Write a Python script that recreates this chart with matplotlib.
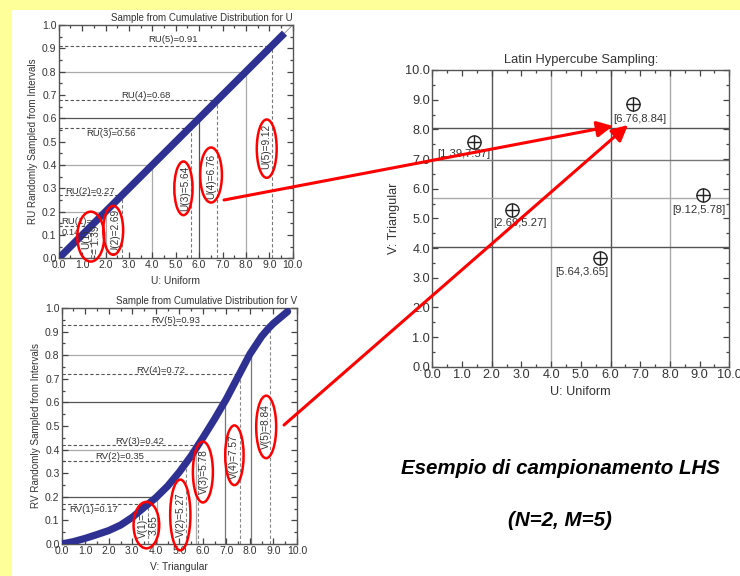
import matplotlib
matplotlib.use('Agg')
import matplotlib.pyplot as plt
from matplotlib.patches import Ellipse, Rectangle, FancyArrowPatch
from matplotlib.ticker import MultipleLocator, FormatStrFormatter

plt.rcParams['font.family'] = ['Liberation Sans', 'DejaVu Sans']

# cumulative curves
u_curve = [0.0, 9.65]
fu_curve = [0.0, 0.965]
v_curve = [0.0, 0.5, 1.0, 1.5, 2.0, 2.5, 3.0, 3.5, 4.0, 4.5, 5.0, 5.5, 6.0, 6.5,
           7.0, 7.5, 8.0, 8.5, 8.8, 9.0, 9.3, 9.6]
fv_curve = [0.0, 0.01, 0.024, 0.04, 0.057, 0.08, 0.113, 0.155, 0.196, 0.245, 0.305,
            0.373, 0.45, 0.53, 0.615, 0.71, 0.805, 0.88, 0.915, 0.935, 0.96, 0.985]

# interval boundaries
p_bounds = [0.2, 0.4, 0.6, 0.8]
u_bounds = [2.0, 4.0, 6.0, 8.0]
v_bounds = [4.05, 5.69, 6.96, 8.03]

# sampled values
ru = [0.14, 0.27, 0.56, 0.68, 0.91]
u_samples = [1.39, 2.69, 5.64, 6.76, 9.12]
rv = [0.17, 0.35, 0.42, 0.72, 0.93]
v_samples = [3.65, 5.27, 5.78, 7.57, 8.84]

# LHS pairs
lhs_u = [1.39, 2.69, 5.64, 6.76, 9.12]
lhs_v = [7.57, 5.27, 3.65, 8.84, 5.78]

NAVY = '#2e3192'
TXT = '#333333'
W, H = 740, 576

fig = plt.figure(figsize=(7.4, 5.76), dpi=100, facecolor='#ffff99')
fig.patches.append(Rectangle((12 / W, 0), 1, 1 - 10 / H, transform=fig.transFigure,
                             facecolor='white', edgecolor='none', zorder=-10))


def px_axes(l, t, r, b):
    return fig.add_axes([l / W, 1 - b / H, (r - l) / W, (b - t) / H])


def style(ax, ymax, ymaj, ymin, fs):
    ax.set_xlim(0, 10)
    ax.set_ylim(0, ymax)
    ax.xaxis.set_major_locator(MultipleLocator(1.0))
    ax.xaxis.set_minor_locator(MultipleLocator(0.5))
    ax.yaxis.set_major_locator(MultipleLocator(ymaj))
    ax.yaxis.set_minor_locator(MultipleLocator(ymin))
    ax.xaxis.set_major_formatter(FormatStrFormatter('%.1f'))
    ax.yaxis.set_major_formatter(FormatStrFormatter('%.1f'))
    ax.tick_params(which='both', direction='in', top=True, right=True,
                   labelsize=fs, colors='#444444', labelcolor=TXT, width=0.9)
    ax.tick_params(which='major', length=4.5, pad=1.5)
    ax.tick_params(which='minor', length=2.5)
    for s in ax.spines.values():
        s.set_color('#555555')
        s.set_linewidth(1.0)


def ellipse(ax, x, y, w, h):
    ax.add_patch(Ellipse((x, y), w, h, fill=False, edgecolor='red', lw=1.8,
                         clip_on=False, zorder=6))


fs = 6.8
vfs = 7.3

# ---------------- U panel ----------------
ax1 = px_axes(58.7, 25, 292.7, 258.3)
style(ax1, 1.0, 0.1, 0.05, 7.5)
cols = ['#aaaaaa', '#aaaaaa', '#555555', '#aaaaaa']
for p, u, c in zip(p_bounds, u_bounds, cols):
    ax1.plot([0, u], [p, p], color=c, lw=0.9, zorder=1)
    ax1.plot([u, u], [0, p], color=c, lw=0.9, zorder=1)
for r, u in zip(ru, u_samples):
    ax1.plot([0, u], [r, r], color='#555555', lw=0.8, ls=(0, (3, 2)), zorder=1)
    ax1.plot([u, u], [0, r], color='#777777', lw=0.8, ls=(0, (3, 2)), zorder=1)
ax1.plot([0, 10], [0, 1], color='#888888', lw=0.6, zorder=2)
ax1.plot(u_curve, fu_curve, color=NAVY, lw=5.2, solid_capstyle='butt', zorder=3)
ax1.set_title('Sample from Cumulative Distribution for U', loc='right', fontsize=7,
              color=TXT, pad=3)
ax1.set_xlabel('U: Uniform', fontsize=7.4, color=TXT, labelpad=4)
ax1.set_ylabel('RU Randomly Sampled from Intervals', fontsize=7.1, color=TXT, labelpad=3)

ax1.text(4.87, 0.937, 'RU(5)=0.91', fontsize=fs, color=TXT, ha='center', va='center')
ax1.text(3.72, 0.697, 'RU(4)=0.68', fontsize=fs, color=TXT, ha='center', va='center')
ax1.text(2.23, 0.536, 'RU(3)=0.56', fontsize=fs, color=TXT, ha='center', va='center')
ax1.text(1.36, 0.286, 'RU(2)=0.27', fontsize=fs, color=TXT, ha='center', va='center')
ax1.text(0.13, 0.135, 'RU(1)=\n0.14', fontsize=fs, color=TXT, ha='left', va='center',
         linespacing=1.3)
ax1.text(1.38, 0.08, 'U(1)\n= 1.39', fontsize=vfs, color=TXT, rotation=90,
         ha='center', va='center', linespacing=1.05)
ax1.text(2.41, 0.114, 'U(2)=2.69', fontsize=vfs, color=TXT, rotation=90, ha='center', va='center')
ax1.text(5.40, 0.30, 'U(3)=5.64', fontsize=vfs, color=TXT, rotation=90, ha='center', va='center')
ax1.text(6.50, 0.35, 'U(4)=6.76', fontsize=vfs, color=TXT, rotation=90, ha='center', va='center')
ax1.text(8.89, 0.478, 'U(5)=9.12', fontsize=vfs, color=TXT, rotation=90, ha='center', va='center')
ellipse(ax1, 1.37, 0.093, 1.15, 0.214)
ellipse(ax1, 2.33, 0.12, 0.85, 0.21)
ellipse(ax1, 5.33, 0.30, 0.78, 0.23)
ellipse(ax1, 6.51, 0.357, 0.93, 0.236)
ellipse(ax1, 8.89, 0.47, 0.85, 0.25)

# ---------------- V panel ----------------
ax2 = px_axes(61.7, 308, 297, 544)
style(ax2, 1.0, 0.1, 0.05, 7.5)
cols = ['#555555', '#aaaaaa', '#555555', '#aaaaaa']
vcols = ['#aaaaaa', '#aaaaaa', '#777777', '#777777']
for p, v, c, vc in zip(p_bounds, v_bounds, cols, vcols):
    ax2.plot([0, v], [p, p], color=c, lw=0.9, zorder=1)
    ax2.plot([v, v], [0, p], color=vc, lw=0.9, zorder=1)
for r, v in zip(rv, v_samples):
    ax2.plot([0, v], [r, r], color='#555555', lw=0.8, ls=(0, (3, 2)), zorder=1)
    ax2.plot([v, v], [0, r], color='#888888', lw=0.8, ls=(0, (3, 2)), zorder=1)
ax2.plot(v_curve, fv_curve, color=NAVY, lw=5.2, solid_capstyle='round',
         solid_joinstyle='round', zorder=3)
ax2.set_title('Sample from Cumulative Distribution for V', loc='right', fontsize=7,
              color=TXT, pad=3)
ax2.set_xlabel('V: Triangular', fontsize=7.4, color=TXT, labelpad=4)
ax2.set_ylabel('RV Randomly Sampled from Intervals', fontsize=7.1, color=TXT, labelpad=3)

ax2.text(4.86, 0.949, 'RV(5)=0.93', fontsize=fs, color=TXT, ha='center', va='center')
ax2.text(4.21, 0.735, 'RV(4)=0.72', fontsize=fs, color=TXT, ha='center', va='center')
ax2.text(3.32, 0.436, 'RV(3)=0.42', fontsize=fs, color=TXT, ha='center', va='center')
ax2.text(2.47, 0.372, 'RV(2)=0.35', fontsize=fs, color=TXT, ha='center', va='center')
ax2.text(1.34, 0.147, 'RV(1)=0.17', fontsize=fs, color=TXT, ha='center', va='center')
ax2.text(3.67, 0.08, 'V(1)=\n3.65', fontsize=vfs, color=TXT, rotation=90,
         ha='center', va='center', linespacing=1.05)
ax2.text(5.08, 0.123, 'V(2)=5.27', fontsize=vfs, color=TXT, rotation=90, ha='center', va='center')
ax2.text(6.03, 0.305, 'V(3)=5.78', fontsize=vfs, color=TXT, rotation=90, ha='center', va='center')
ax2.text(7.32, 0.372, 'V(4)=7.57', fontsize=vfs, color=TXT, rotation=90, ha='center', va='center')
ax2.text(8.69, 0.496, 'V(5)=8.84', fontsize=vfs, color=TXT, rotation=90, ha='center', va='center')
ellipse(ax2, 3.6, 0.08, 1.09, 0.197)
ellipse(ax2, 5.04, 0.123, 0.86, 0.30)
ellipse(ax2, 6.0, 0.305, 0.85, 0.258)
ellipse(ax2, 7.34, 0.376, 0.78, 0.253)
ellipse(ax2, 8.69, 0.496, 0.85, 0.265)

# ---------------- LHS panel ----------------
ax3 = px_axes(432.3, 70, 729.3, 366.7)
style(ax3, 10.0, 1.0, 0.5, 9.2)
gcols = ['#555555', '#aaaaaa', '#555555', '#aaaaaa']
hcols = ['#555555', '#aaaaaa', '#777777', '#555555']
for u, c in zip(u_bounds, gcols):
    ax3.axvline(u, color=c, lw=1.0, zorder=1)
for v, c in zip(v_bounds, hcols):
    ax3.axhline(v, color=c, lw=1.0, zorder=1)
ax3.plot(lhs_u, lhs_v, ls='none', marker='o', ms=9.5, mfc='white', mec='#222222',
         mew=1.0, zorder=4)
ax3.plot(lhs_u, lhs_v, ls='none', marker='+', ms=9.5, mec='#222222', mew=1.0, zorder=5)
offsets = [(-10, 12), (8, 13), (-18, 14), (7, 15), (-4, 15)]
for u, v, (dx, dy) in zip(lhs_u, lhs_v, offsets):
    ax3.annotate('[%.2f,%.2f]' % (u, v), (u, v), xytext=(dx * 0.72, -dy * 0.72),
                 textcoords='offset points', ha='center', va='center',
                 fontsize=8.1, color=TXT, zorder=5)
ax3.set_title('Latin Hypercube Sampling:', fontsize=9.3, color=TXT, pad=5)
ax3.set_xlabel('U: Uniform', fontsize=9.1, color=TXT, labelpad=4)
ax3.set_ylabel('V: Triangular', fontsize=9.1, color=TXT, labelpad=4)

# caption
fig.text(560 / W, 1 - 468 / H, 'Esempio di campionamento LHS', fontsize=14.8,
         fontweight='bold', fontstyle='italic', ha='center', va='center')
fig.text(560 / W, 1 - 520 / H, '(N=2, M=5)', fontsize=14.8,
         fontweight='bold', fontstyle='italic', ha='center', va='center')

# red arrows between panels
for start, end in [((224, 200), (613, 126)), ((284, 425), (628, 125))]:
    fig.add_artist(FancyArrowPatch((start[0] / W, 1 - start[1] / H),
                                   (end[0] / W, 1 - end[1] / H),
                                   transform=fig.transFigure, arrowstyle='-|>',
                                   mutation_scale=24, lw=2.2, color='red',
                                   shrinkA=0, shrinkB=0, zorder=10))

fig.savefig('out.png', dpi=100, facecolor=fig.get_facecolor())
